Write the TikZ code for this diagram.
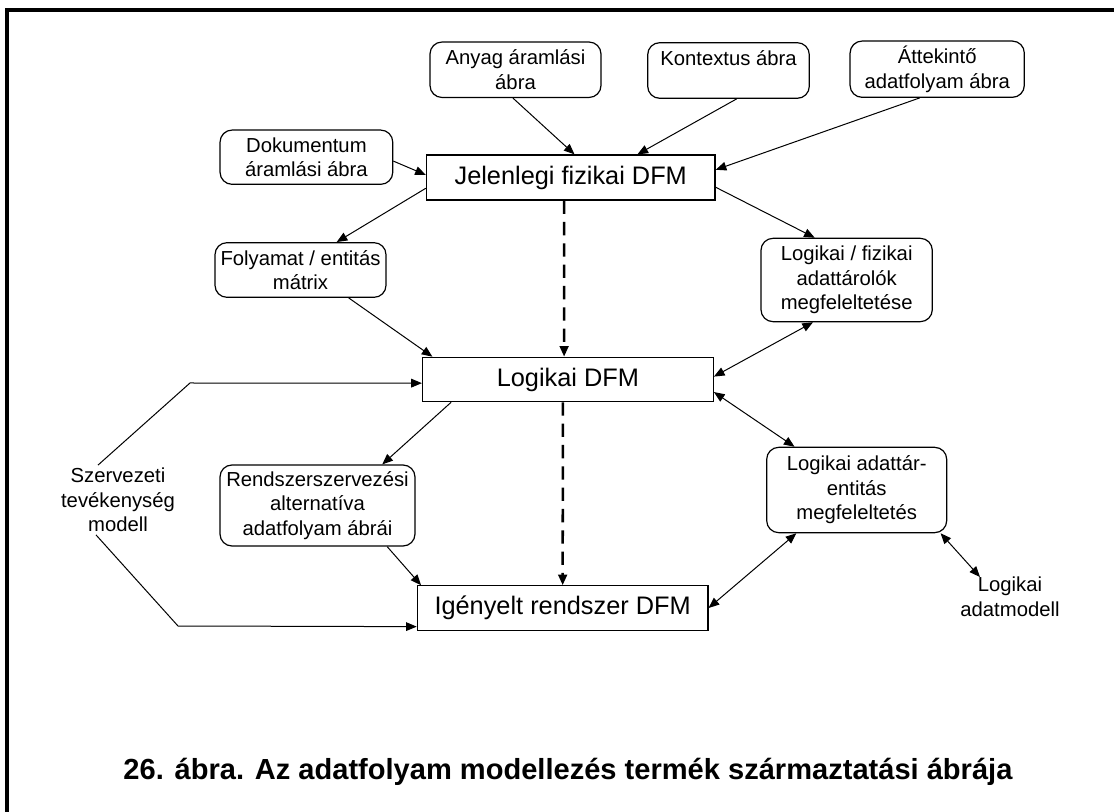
\documentclass[tikz,border=0pt]{standalone}
\usepackage{fontspec}
\setmainfont{Liberation Sans}
\usetikzlibrary{arrows.meta,calc}
\begin{document}
\begin{tikzpicture}[x=0.75pt,y=-0.75pt,
  txt/.style={font=\fontsize{15.2}{18.4}\selectfont, align=center, inner sep=0pt},
  rbox/.style={txt, draw, line width=0.9pt, rounded corners=9pt},
  sbox/.style={draw, line width=0.9pt, inner sep=0pt, font=\fontsize{19}{22}\selectfont},
  conn/.style={line width=0.75pt, -{Triangle[length=8pt,width=6.5pt]}},
  bconn/.style={line width=0.75pt, {Triangle[length=8pt,width=6.5pt]}-{Triangle[length=8pt,width=6.5pt]}},
  dconn/.style={line width=1.9pt, dash pattern=on 10pt off 6pt, -{Triangle[length=8pt,width=6.5pt]}}
]
\useasboundingbox (0,0) rectangle (1114,812);
\draw[line width=2.3pt] (7,812) -- (7,10) -- (1114,10);

% boxes
\node[rbox, minimum width=128.25pt, minimum height=41.6pt] (anyag) at (515.5,69.75) {Anyag áramlási\\ábra};
\node[rbox, minimum width=121.2pt, minimum height=41.7pt] (kontext) at (728.5,70.5) {Kontextus ábra\\\mbox{}};
\node[rbox, minimum width=130.7pt, minimum height=42.2pt] (attek) at (937.2,69.2) {Áttekintő\\adatfolyam ábra};
\node[rbox, minimum width=129.5pt, minimum height=40.7pt] (doku) at (306.4,157.2) {Dokumentum\\áramlási ábra};
\node[sbox, minimum width=216.5pt, minimum height=33.75pt] (jelen) at (570.75,177.5) {Jelenlegi fizikai DFM};
\node[rbox, minimum width=128.25pt, minimum height=41pt] (folyam) at (300.5,270) {Folyamat / entitás\\mátrix};
\node[rbox, minimum width=128.5pt, minimum height=62.5pt] (logfiz) at (846.65,280) {Logikai / fizikai\\adattárolók\\megfeleltetése};
\node[sbox, minimum width=218.1pt, minimum height=33.3pt] (logdfm) at (567.9,379.5) {Logikai DFM};
\node[rbox, minimum width=146.25pt, minimum height=60.75pt] (rendsz) at (317.5,505.5) {Rendszerszervezési\\alternatíva\\adatfolyam ábrái};
\node[rbox, minimum width=135pt, minimum height=64pt] (logadat) at (856.7,490) {Logikai adattár-\\entitás\\megfeleltetés};
\node[sbox, minimum width=218pt, minimum height=33.2pt] (igeny) at (562.65,608) {Igényelt rendszer DFM};
\node[txt, inner sep=2pt] (szerv) at (118,500) {Szervezeti\\tevékenység\\modell};
\node[txt] (adatmod) at (1010,597) {Logikai\\adatmodell};
\node[font=\bfseries\fontsize{21.8}{26}\selectfont, inner sep=0pt] (cap) at (568,772) {26. ábra. Az adatfolyam modellezés termék származtatási ábrája};

% connectors
\draw[conn] ($(anyag.south west)!0.485!(anyag.south east)$) -- ($(jelen.north west)!0.513!(jelen.north east)$);
\draw[conn] ($(kontext.south west)!0.55!(kontext.south east)$) -- ($(jelen.north west)!0.73!(jelen.north east)$);
\draw[conn] ($(attek.south west)!0.40!(attek.south east)$) -- ($(jelen.north east)!0.333!(jelen.south east)$);
\draw[conn] ($(doku.north east)!0.57!(doku.south east)$) -- ($(jelen.north west)!0.444!(jelen.south west)$);
\draw[conn] ($(jelen.north west)!0.733!(jelen.south west)$) -- ($(folyam.north west)!0.71!(folyam.north east)$);
\draw[conn] ($(jelen.north east)!0.711!(jelen.south east)$) -- ($(logfiz.north west)!0.315!(logfiz.north east)$);
\draw[conn] ($(folyam.south west)!0.78!(folyam.south east)$) -- ($(logdfm.north west)!0.036!(logdfm.north east)$);
\draw[bconn] ($(logfiz.south west)!0.305!(logfiz.south east)$) -- ($(logdfm.north east)!0.437!(logdfm.south east)$);
\draw[bconn] ($(logdfm.north east)!0.775!(logdfm.south east)$) -- ($(logadat.north west)!0.157!(logadat.north east)$);
\draw[conn] ($(logdfm.south west)!0.10!(logdfm.south east)$) -- ($(rendsz.north west)!0.83!(rendsz.north east)$);
\draw[conn] ($(rendsz.south west)!0.855!(rendsz.south east)$) -- ($(igeny.north west)!0.015!(igeny.north east)$);
\coordinate (b1) at (190,383);
\coordinate (b2) at (178,626);
\draw[conn] ($(szerv.north)+(-20,0)$) -- (b1) -- ($(logdfm.north west)!0.58!(logdfm.south west)$);
\draw[conn] ($(szerv.south)+(-22,0)$) -- (b2) -- ($(igeny.north west)!0.91!(igeny.south west)$);
\draw[bconn] (igeny.east) -- ($(logadat.south west)!0.167!(logadat.south east)$);
\draw[bconn] ($(logadat.south west)!0.963!(logadat.south east)$) -- ($(adatmod.north)+(-30,0)$);
\draw[dconn] ($(jelen.south west)!0.477!(jelen.south east)$) -- ($(logdfm.north west)!0.487!(logdfm.north east)$);
\draw[dconn] ($(logdfm.south west)!0.483!(logdfm.south east)$) -- ($(igeny.north west)!0.50!(igeny.north east)$);
\end{tikzpicture}
\end{document}
